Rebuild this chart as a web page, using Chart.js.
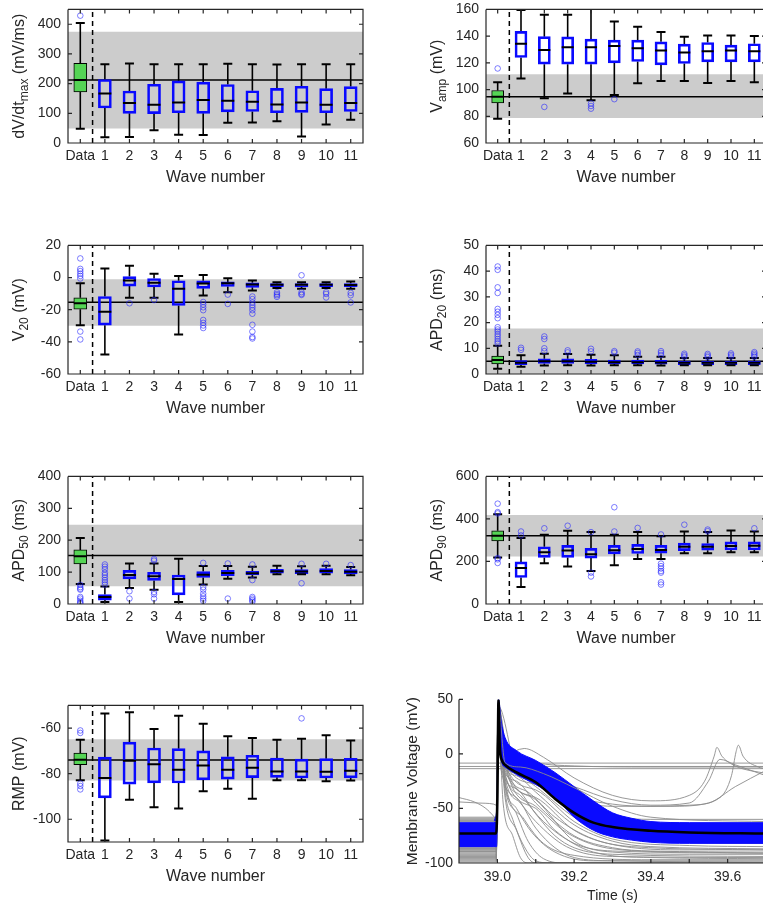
<!DOCTYPE html>
<html>
<head>
<meta charset="utf-8">
<script src="https://cdn.jsdelivr.net/npm/chart.js@4.4.0/dist/chart.umd.min.js"></script>
<style>
html, body { margin: 0; padding: 0; background: #fff; overflow: hidden; width: 763px; height: 907px; position: relative; }
canvas { position: absolute; }
</style>
</head>
<body>
<canvas id="c1"></canvas>
<canvas id="c2"></canvas>
<canvas id="c3"></canvas>
<canvas id="c4"></canvas>
<canvas id="c5"></canvas>
<canvas id="c6"></canvas>
<canvas id="c7"></canvas>
<canvas id="c8"></canvas>
<script>
// categories (0 = Data, then wave numbers)
var positions = [0, 1, 2, 3, 4, 5, 6, 7, 8, 9, 10, 11];
var xLabels = ['Data', '1', '2', '3', '4', '5', '6', '7', '8', '9', '10', '11'];

// dV/dt max
var dvdtQ1  = [172, 118, 100, 99, 102, 100, 105, 106, 102, 103, 102, 106];
var dvdtMed = [212, 167, 135, 129, 136, 145, 142, 139, 130, 136, 129, 135];
var dvdtQ3  = [268, 214, 175, 198, 209, 205, 197, 176, 184, 191, 183, 190];
var dvdtLo  = [48, 19, 20, 43, 28, 27, 68, 69, 73, 22, 62, 78];
var dvdtHi  = [404, 265, 268, 265, 265, 265, 267, 265, 264, 265, 265, 265];
var dvdtOut = [[0, 429]];
var dvdtBand = [49, 375];
var dvdtRef = 212;

// V amp
var vampQ1  = [90, 124, 119, 119, 119, 120, 121, 118.5, 119.5, 120.7, 120.7, 120.7];
var vampMed = [94.7, 134.3, 129.7, 131.6, 131.6, 132.6, 131, 129.2, 127.7, 128.7, 129.2, 128.7];
var vampQ3  = [99.3, 143.5, 139.6, 139.4, 137.7, 137, 137, 135.7, 134, 135.2, 133.3, 134.3];
var vampLo  = [78.2, 108.3, 93.5, 97, 92, 96, 104.7, 106.4, 106.4, 105, 106.4, 105.4];
var vampHi  = [105.4, 159.5, 156, 156, 165, 151, 147, 143, 139.5, 140.5, 140.5, 140];
var vampOut = [[0, 115.8], [2, 87], [4, 89.6], [4, 87.7], [4, 85.7], [5, 92.8]];
var vampBand = [78.7, 111.5];
var vampRef = 94.7;

// V20
var v20Q1  = [-19.7, -29.6, -5.3, -5.9, -17.4, -6.7, -5.5, -6.1, -5.7, -5.9, -5.7, -5.7];
var v20Med = [-16, -21.3, -1.9, -3.3, -6.9, -3.7, -3.5, -4.3, -4.5, -4.5, -4.5, -4.7];
var v20Q3  = [-12.6, -11.8, 0.6, -0.6, -2, -2, -2.7, -3.3, -3.7, -3.7, -3.7, -3.7];
var v20Lo  = [-29.6, -47.8, -12.6, -12.6, -35.5, -11.2, -9.1, -8.1, -6.5, -6.9, -6.5, -7];
var v20Hi  = [-3.5, 5.6, 7.4, 2.4, 1, 1.6, -0.4, -1.9, -2.9, -2.9, -2.9, -2.5];
var v20Out = [[0, 11.9], [0, 5.4], [0, 4], [0, 2.4], [0, 1], [0, -0.6], [0, -33.6], [0, -38.5],
  [2, -16], [3, -14],
  [5, -15.2], [5, -16.8], [5, -18.5], [5, -20.3], [5, -26.4], [5, -28.2], [5, -29.8], [5, -31.4],
  [6, -10.6], [6, -16.4],
  [7, -11.8], [7, -13.4], [7, -15.6], [7, -17.2], [7, -18.7], [7, -20.3], [7, -22.5], [7, -29.4], [7, -33.6], [7, -37], [7, -37.9],
  [8, -9.1], [8, -10.2], [8, -11], [8, -12],
  [9, 1.4], [9, -9.1], [9, -10.2], [9, -10.8],
  [10, -9.1], [10, -10.2], [10, -12.4],
  [11, -9.5], [11, -11], [11, -15.5]];
var v20Band = [-30, -1];
var v20Ref = -15.4;

// APD20
var apd20Q1  = [3.9, 3.6, 4.1, 4.1, 3.9, 3.9, 3.9, 3.8, 3.6, 3.6, 3.6, 3.6];
var apd20Med = [5.4, 4.4, 5, 5, 4.8, 4.6, 4.6, 4.5, 4.4, 4.4, 4.4, 4.4];
var apd20Q3  = [7.0, 5.2, 5.9, 5.9, 5.7, 5.4, 5.4, 5.3, 5, 5, 5, 5];
var apd20Lo  = [2, 2.8, 3.3, 3.4, 3.3, 3.4, 3.4, 3.3, 3.4, 3.4, 3.4, 3.4];
var apd20Hi  = [11, 7.3, 7.9, 7.8, 7.5, 7.3, 6.7, 6.7, 6.2, 6.2, 6.2, 6.2];
var apd20Out = [[0, 41.8], [0, 40.5], [0, 33.7], [0, 31.5], [0, 25.3], [0, 24.2], [0, 23], [0, 21.7],
  [0, 18.2], [0, 17.3], [0, 16.5], [0, 15.5], [0, 14.6], [0, 13.6], [0, 12.7], [0, 11.9],
  [1, 10.2], [1, 9.4], [2, 14.6], [2, 13.6], [2, 10], [2, 8.9], [3, 9.2], [3, 8.4],
  [4, 9.8], [4, 8.8], [5, 8.9], [5, 8.3], [6, 8.8], [6, 8.2], [6, 7.4], [7, 8.9], [7, 8.2], [7, 7.4],
  [8, 7.9], [8, 7.3], [8, 6.7], [9, 7.8], [9, 7.2], [9, 6.6], [10, 8], [10, 7.4], [10, 6.8],
  [11, 8.5], [11, 7.9], [11, 7.3], [11, 6.7]];
var apd20Band = [-5, 17.7];
var apd20Ref = 5.0;

// APD50
var apd50Q1  = [126, 12.2, 79, 74, 28.4, 83, 89, 91, 96.4, 95.4, 96.4, 94];
var apd50Med = [150, 22, 91, 87, 78, 92, 97.5, 96.4, 102.5, 101.5, 103.5, 101];
var apd50Q3  = [169.5, 29.4, 105.6, 99.5, 91, 101.5, 105.6, 102.5, 108.6, 107.6, 110.7, 108];
var apd50Lo  = [63, 6, 50, 45, 6, 61, 79, 83, 93.4, 93.4, 93.4, 90];
var apd50Hi  = [207, 55, 127, 127, 142, 119, 119, 117, 120, 118, 120, 116];
var apd50Out = [[0, 60], [0, 53], [0, 48], [0, 45], [0, 22], [0, 17], [0, 10], [0, 5], [0, 2],
  [1, 124], [1, 117], [1, 109], [1, 98], [1, 91], [1, 83], [1, 75], [1, 68], [1, 61],
  [2, 40], [2, 17], [3, 141], [3, 136], [3, 37.6], [3, 30.5], [3, 17],
  [5, 129], [5, 53], [5, 45], [5, 32.5], [5, 24], [5, 17], [5, 10],
  [6, 127], [6, 17], [7, 124], [7, 75], [7, 22], [7, 17], [7, 12], [7, 7],
  [9, 126], [9, 65], [10, 126], [11, 122]];
var apd50Band = [55.8, 248.7];
var apd50Ref = 152;

// APD90
var apd90Q1  = [296.8, 124.8, 219, 219, 216, 236, 237.4, 239, 251, 252.7, 254, 254];
var apd90Med = [321, 169, 243.5, 251, 234, 252.7, 258.8, 254, 269.4, 269.4, 272.4, 274];
var apd90Q3  = [344, 197.9, 269.4, 275.5, 261.8, 275.5, 280, 275.5, 286, 284.6, 292, 292];
var apd90Lo  = [219, 80, 191.8, 176.6, 155, 182.6, 211.6, 211.6, 239, 239, 243.5, 243.5];
var apd90Hi  = [421.6, 310.5, 325.7, 344, 338, 325.7, 338, 318, 341, 338, 345.5, 341];
var apd90Out = [[0, 471.8], [0, 432], [0, 426], [0, 216], [0, 210], [0, 193],
  [1, 341], [1, 322.6], [2, 356], [3, 368], [4, 338], [4, 147.6], [4, 129.4],
  [5, 455], [5, 341], [6, 357.7],
  [7, 327], [7, 190], [7, 178], [7, 167], [7, 155], [7, 147.6], [7, 102], [7, 91.3],
  [8, 373], [9, 350], [9, 342.5], [11, 356]];
var apd90Band = [223.7, 418.6];
var apd90Ref = 321.2;

// RMP
var rmpQ1  = [-76, -90.6, -84.6, -84, -84.1, -82.7, -82.4, -81.7, -81.6, -81.9, -81.9, -81.8];
var rmpMed = [-73.9, -81.9, -74.3, -75.9, -78.3, -76.4, -78.3, -77.4, -79, -79, -79.1, -78.7];
var rmpQ3  = [-70.9, -72.7, -66.1, -68.7, -69, -70, -72.6, -71.9, -73.1, -73.6, -73.4, -73.2];
var rmpLo  = [-82.9, -109.3, -91.4, -94.7, -95.3, -87.7, -86.6, -91, -82.9, -82.9, -83.3, -83];
var rmpHi  = [-65.1, -53.6, -53, -60.4, -54.6, -58.1, -63.6, -64.3, -65.1, -64.7, -63.1, -65.4];
var rmpOut = [[0, -61], [0, -62.1], [0, -84.3], [0, -85.4], [0, -86.9], [9, -55.7]];
var rmpBand = [-83, -64.9];
var rmpRef = -74;

// membrane voltage traces
var blueT     = [38.9, 38.99, 38.995, 38.998, 39.003, 39.01, 39.02, 39.05, 39.1, 39.15, 39.2, 39.25, 39.3, 39.35, 39.4, 39.5, 39.7];
var blueUpper = [-63, -63, -58, -52, 50, 30, 15, 3, -6, -17, -30, -43, -54, -59, -62, -63, -63];
var blueLower = [-85, -85, -85, -85, 48, -5, -12, -19, -28, -40, -58, -70, -76, -79, -81, -82, -82];
var meanT = [38.9, 38.997, 39.0, 39.003, 39.006, 39.012, 39.02, 39.05, 39.1, 39.15, 39.2, 39.25, 39.3, 39.4, 39.5, 39.7];
var meanV = [-73, -73, -40, 50, 8, -6, -10, -17, -26, -41, -54, -63, -67, -70.5, -72, -73];
var greyOnTop = [
  [[38.9, -62], [38.997, -62], [39.002, 45], [39.02, -8], [39.06, -12], [39.12, -18], [39.2, -31], [39.3, -48], [39.4, -58], [39.7, -62]]
];
var greyTraces = [
  [[38.9, -8.4], [39.7, -8.4]],
  [[38.9, -11.5], [39.7, -11.5]],
  [[38.9, -13.5], [39.7, -13.5]],
  [[38.9, -40], [38.94, -44], [38.97, -50], [38.99, -57], [38.997, -60], [39.002, 46], [39.015, 5], [39.05, -2], [39.1, -8], [39.2, -11], [39.4, -12], [39.7, -12]],
  [[38.9, -44], [38.95, -45], [38.99, -46], [38.997, -47], [39.002, 45], [39.02, 0], [39.07, 5], [39.12, -3], [39.2, -22], [39.3, -38], [39.4, -43], [39.5, -38], [39.54, -25], [39.565, -2], [39.572, 6], [39.585, -2], [39.62, -11], [39.7, -18]],
  [[38.9, -58], [38.997, -58], [39.002, 45], [39.02, -5], [39.1, -15], [39.15, -25], [39.2, -38], [39.3, -46], [39.4, -48], [39.5, -47], [39.58, -40], [39.61, -20], [39.622, 2], [39.628, 8], [39.64, -2], [39.68, -12], [39.7, -14]],
  [[38.9, -59], [38.997, -59], [39.002, 44], [39.03, -8], [39.1, -22], [39.2, -45], [39.3, -57], [39.4, -60], [39.7, -60]],
  [[38.9, -60], [38.997, -60], [39.002, 44], [39.03, -10], [39.1, -18], [39.2, -30], [39.3, -42], [39.4, -47], [39.5, -45], [39.55, -25], [39.58, -5], [39.62, -10], [39.7, -20]],
  [[38.9, -61], [38.997, -61], [39.002, 44], [39.05, -15], [39.1, -25], [39.2, -42], [39.3, -48], [39.45, -48], [39.55, -45], [39.62, -30], [39.7, -15]],
  [[38.9, -86], [38.997, -86], [39.002, 42], [39.01, -5], [39.05, -20], [39.1, -35], [39.2, -65], [39.3, -80], [39.4, -85], [39.7, -87]],
  [[38.9, -88], [38.997, -88], [39.002, 40], [39.01, -8], [39.05, -25], [39.1, -45], [39.2, -75], [39.3, -86], [39.4, -89], [39.7, -90]],
  [[38.9, -90], [38.997, -90], [39.002, 40], [39.01, -12], [39.05, -32], [39.1, -55], [39.15, -75], [39.2, -86], [39.3, -92], [39.7, -94]],
  [[38.9, -93], [38.997, -93], [39.002, 38], [39.01, -15], [39.05, -40], [39.1, -68], [39.15, -86], [39.2, -95], [39.3, -98], [39.7, -99]],
  [[38.9, -96], [38.997, -96], [39.002, 36], [39.02, -30], [39.05, -55], [39.08, -80], [39.12, -96], [39.18, -100], [39.7, -100]],
  [[38.9, -98], [38.997, -98], [39.002, 36], [39.02, -40], [39.05, -70], [39.08, -95], [39.1, -100], [39.7, -100]],
  [[38.9, -84], [38.997, -84], [39.002, 42], [39.01, -3], [39.05, -18], [39.1, -30], [39.2, -58], [39.3, -74], [39.4, -80], [39.7, -82]],
  [[38.9, -87], [38.997, -87], [39.002, 41], [39.02, -15], [39.1, -40], [39.2, -70], [39.3, -83], [39.5, -88], [39.7, -88]],
  [[38.9, -91], [38.997, -91], [39.002, 39], [39.02, -20], [39.1, -50], [39.15, -70], [39.25, -90], [39.4, -95], [39.7, -96]],
  [[38.9, -94], [38.997, -94], [39.002, 38], [39.02, -25], [39.07, -60], [39.12, -82], [39.2, -93], [39.4, -97], [39.7, -97]],
  [[38.9, -89], [38.997, -89], [39.002, 40], [39.03, -18], [39.1, -42], [39.2, -80], [39.3, -90], [39.5, -92], [39.7, -92]],
  [[38.9, -97], [38.997, -97], [39.002, 37], [39.02, -35], [39.04, -60], [39.07, -85], [39.1, -98], [39.14, -100], [39.7, -100]],
  [[38.9, -85], [38.997, -85], [39.002, 43], [39.02, -10], [39.1, -33], [39.2, -62], [39.3, -78], [39.5, -84], [39.7, -85]],
  [[38.9, -86.5], [38.997, -86.5], [39.002, 41], [39.02, -12], [39.08, -35], [39.15, -58], [39.25, -78], [39.35, -85], [39.7, -88]],
  [[38.9, -89.5], [38.997, -89.5], [39.002, 40], [39.02, -18], [39.06, -38], [39.12, -62], [39.2, -82], [39.3, -89], [39.7, -91]],
  [[38.9, -92], [38.997, -92], [39.002, 39], [39.02, -22], [39.06, -45], [39.1, -62], [39.18, -85], [39.3, -94], [39.7, -95]],
  [[38.9, -95], [38.997, -95], [39.002, 37], [39.02, -28], [39.05, -50], [39.09, -72], [39.15, -90], [39.25, -98], [39.7, -98]],
  [[38.9, -83], [38.997, -83], [39.002, 43], [39.02, -8], [39.1, -28], [39.18, -50], [39.28, -70], [39.4, -78], [39.7, -80]],
  [[38.9, -99], [38.997, -99], [39.002, 35], [39.015, -45], [39.04, -75], [39.06, -95], [39.08, -100], [39.7, -100]],
  [[38.9, -88], [38.997, -88], [39.002, 40], [39.03, -22], [39.1, -48], [39.18, -72], [39.3, -87], [39.5, -90], [39.7, -91]]
];

var FONT = "'Liberation Sans', Arial, Helvetica, sans-serif";
var INK = '#262626';
var GREEN = '#55d455';
var BLUE = '#0a0aff';

// dessine le cadre façon MATLAB (ticks vers l'intérieur)
var framePlugin = {
    id: 'frame',
    afterDatasetsDraw: function(chart, args, opts) {
        var a = chart.chartArea, ctx = chart.ctx;
        var xs = chart.scales.x, ys = chart.scales.y;
        var t = 4;
        ctx.save();
        ctx.strokeStyle = INK;
        ctx.lineWidth = 1.2;
        ctx.beginPath();
        ctx.moveTo(a.left, a.top);
        ctx.lineTo(a.left, a.bottom);
        ctx.lineTo(a.right, a.bottom);
        if (opts.box) {
            ctx.lineTo(a.right, a.top);
            ctx.lineTo(a.left, a.top);
        }
        xs.ticks.forEach(function(tk) {
            var px = xs.getPixelForValue(tk.value);
            ctx.moveTo(px, a.bottom);
            ctx.lineTo(px, a.bottom - t);
            if (opts.box) {
                ctx.moveTo(px, a.top);
                ctx.lineTo(px, a.top + t);
            }
        });
        ys.ticks.forEach(function(tk) {
            var py = ys.getPixelForValue(tk.value);
            ctx.moveTo(a.left, py);
            ctx.lineTo(a.left + t, py);
            if (opts.box) {
                ctx.moveTo(a.right, py);
                ctx.lineTo(a.right - t, py);
            }
        });
        ctx.stroke();
        ctx.restore();
    }
};

// titres des axes, avec indice pour l'axe y
var titlePlugin = {
    id: 'axisTitles',
    afterDraw: function(chart, args, opts) {
        var a = chart.chartArea, ctx = chart.ctx;
        var ySize = opts.ySize || opts.size;
        ctx.save();
        ctx.fillStyle = INK;
        ctx.textBaseline = 'middle';
        ctx.textAlign = 'center';
        ctx.font = opts.size + 'px ' + FONT;
        ctx.fillText(opts.x, (a.left + a.right) / 2, a.bottom + opts.xOff);

        var total = 0;
        opts.y.forEach(function(p) {
            ctx.font = (p[1] ? opts.subSize : ySize) + 'px ' + FONT;
            total += ctx.measureText(p[0]).width;
        });
        ctx.translate(a.left - opts.yOff, (a.top + a.bottom) / 2);
        ctx.rotate(-Math.PI / 2);
        ctx.textAlign = 'left';
        var x = -total / 2;
        opts.y.forEach(function(p) {
            ctx.font = (p[1] ? opts.subSize : ySize) + 'px ' + FONT;
            ctx.fillText(p[0], x, p[1] ? 5 : 0);
            x += ctx.measureText(p[0]).width;
        });
        ctx.restore();
    }
};

function placeCanvas(id, rect, pad) {
    var c = document.getElementById(id);
    var w = rect.r - rect.l + pad.l + pad.r;
    var h = rect.b - rect.t + pad.t + pad.b;
    c.width = w;
    c.height = h;
    c.style.left = (rect.l - pad.l) + 'px';
    c.style.top = (rect.t - pad.t) + 'px';
    c.style.width = w + 'px';
    c.style.height = h + 'px';
    return c;
}

function boxChart(id, rect, d) {
    var pad = {l: 66, t: 12, r: 10, b: 50};
    var canvas = placeCanvas(id, rect, pad);
    var boxW = Math.round((rect.r - rect.l) / 12 * 0.53);

    var whisk = [], caps = [], meds = [], boxes = [], outs = [];
    for (var i = 0; i < positions.length; i++) {
        var p = positions[i];
        whisk.push({x: p, y: d.q3[i]}, {x: p, y: d.hi[i]}, {x: p, y: null},
                   {x: p, y: d.q1[i]}, {x: p, y: d.lo[i]}, {x: p, y: null});
        caps.push({x: p, y: d.lo[i]}, {x: p, y: d.hi[i]});
        meds.push({x: p, y: d.med[i]});
        boxes.push({x: p, y: [d.q1[i], d.q3[i]]});
    }
    d.out.forEach(function(o) { outs.push({x: o[0], y: o[1]}); });

    return new Chart(canvas.getContext('2d'), {
        type: 'bar',
        data: {
            datasets: [
                {   // outliers
                    type: 'line', data: outs, showLine: false, order: 1,
                    pointStyle: 'circle', pointRadius: 2.8, pointBorderWidth: 1,
                    pointBorderColor: 'rgba(40,40,255,0.6)', pointBackgroundColor: 'rgba(0,0,0,0)'
                },
                {   // caps
                    type: 'line', data: caps, showLine: false, order: 2,
                    pointStyle: 'line', pointRadius: 4.5, pointBorderWidth: 2, pointBorderColor: '#000'
                },
                {   // medians
                    type: 'line', data: meds, showLine: false, order: 3,
                    pointStyle: 'line', pointRadius: boxW / 2, pointBorderWidth: 2, pointBorderColor: '#000'
                },
                {   // boxes
                    type: 'bar', data: boxes, order: 4, barThickness: boxW, borderSkipped: false,
                    backgroundColor: function(c) { return c.dataIndex === 0 ? GREEN : 'rgba(0,0,0,0)'; },
                    borderColor: function(c) { return c.dataIndex === 0 ? '#000' : BLUE; },
                    borderWidth: function(c) { return c.dataIndex === 0 ? 1 : 2; }
                },
                {   // whiskers
                    type: 'line', data: whisk, order: 5, spanGaps: false,
                    borderColor: '#000', borderWidth: 1.6, pointRadius: 0
                },
                {   // separation Data / waves
                    type: 'line', data: [{x: 0.5, y: d.yMin}, {x: 0.5, y: d.yMax}], order: 6,
                    borderColor: '#000', borderWidth: 1.5, borderDash: [5, 4], pointRadius: 0
                },
                {   // reference line
                    type: 'line', data: [{x: -0.5, y: d.ref}, {x: 11.5, y: d.ref}], order: 7,
                    borderColor: '#000', borderWidth: 1.5, pointRadius: 0
                },
                {   // grey band
                    type: 'line', data: [{x: -0.5, y: d.band[1]}, {x: 11.5, y: d.band[1]}], order: 8,
                    borderWidth: 0, pointRadius: 0, backgroundColor: '#cccccc',
                    fill: {value: d.band[0]}
                }
            ]
        },
        options: {
            responsive: false,
            animation: false,
            layout: {padding: {left: 0, top: pad.t, right: pad.r, bottom: 0}},
            plugins: {
                legend: {display: false},
                tooltip: {enabled: false},
                frame: {box: true},
                axisTitles: {x: 'Wave number', xOff: 35, y: d.title, yOff: 48, size: 16, subSize: 12}
            },
            scales: {
                x: {
                    type: 'linear', min: -0.5, max: 11.5, offset: false,
                    grid: {display: false, drawTicks: false},
                    border: {display: false},
                    afterBuildTicks: function(s) { s.ticks = positions.map(function(v) { return {value: v}; }); },
                    afterFit: function(s) { s.height = pad.b; },
                    ticks: {
                        autoSkip: false, maxRotation: 0, minRotation: 0, padding: 5,
                        color: INK, font: {family: FONT, size: 14},
                        callback: function(v) { return xLabels[v]; }
                    }
                },
                y: {
                    min: d.yMin, max: d.yMax,
                    grid: {display: false, drawTicks: false},
                    border: {display: false},
                    afterBuildTicks: function(s) { s.ticks = d.yTicks.map(function(v) { return {value: v}; }); },
                    afterFit: function(s) { s.width = pad.l; },
                    ticks: {padding: 7, color: INK, font: {family: FONT, size: 14}}
                }
            }
        },
        plugins: [framePlugin, titlePlugin]
    });
}

boxChart('c1', {l: 68, t: 6, r: 363, b: 143}, {
    q1: dvdtQ1, med: dvdtMed, q3: dvdtQ3, lo: dvdtLo, hi: dvdtHi, out: dvdtOut,
    band: dvdtBand, ref: dvdtRef, yMin: 0, yMax: 450, yTicks: [0, 100, 200, 300, 400],
    title: [['dV/dt', 0], ['max', 1], [' (mV/ms)', 0]]
});
boxChart('c2', {l: 486, t: 6, r: 766, b: 143}, {
    q1: vampQ1, med: vampMed, q3: vampQ3, lo: vampLo, hi: vampHi, out: vampOut,
    band: vampBand, ref: vampRef, yMin: 60, yMax: 160, yTicks: [60, 80, 100, 120, 140, 160],
    title: [['V', 0], ['amp', 1], [' (mV)', 0]]
});
boxChart('c3', {l: 68, t: 242, r: 363, b: 374}, {
    q1: v20Q1, med: v20Med, q3: v20Q3, lo: v20Lo, hi: v20Hi, out: v20Out,
    band: v20Band, ref: v20Ref, yMin: -60, yMax: 20, yTicks: [-60, -40, -20, 0, 20],
    title: [['V', 0], ['20', 1], [' (mV)', 0]]
});
boxChart('c4', {l: 486, t: 242, r: 766, b: 374}, {
    q1: apd20Q1, med: apd20Med, q3: apd20Q3, lo: apd20Lo, hi: apd20Hi, out: apd20Out,
    band: apd20Band, ref: apd20Ref, yMin: 0, yMax: 50, yTicks: [0, 10, 20, 30, 40, 50],
    title: [['APD', 0], ['20', 1], [' (ms)', 0]]
});
boxChart('c5', {l: 68, t: 473, r: 363, b: 604}, {
    q1: apd50Q1, med: apd50Med, q3: apd50Q3, lo: apd50Lo, hi: apd50Hi, out: apd50Out,
    band: apd50Band, ref: apd50Ref, yMin: 0, yMax: 400, yTicks: [0, 100, 200, 300, 400],
    title: [['APD', 0], ['50', 1], [' (ms)', 0]]
});
boxChart('c6', {l: 486, t: 473, r: 766, b: 604}, {
    q1: apd90Q1, med: apd90Med, q3: apd90Q3, lo: apd90Lo, hi: apd90Hi, out: apd90Out,
    band: apd90Band, ref: apd90Ref, yMin: 0, yMax: 600, yTicks: [0, 200, 400, 600],
    title: [['APD', 0], ['90', 1], [' (ms)', 0]]
});
boxChart('c7', {l: 68, t: 702, r: 363, b: 842}, {
    q1: rmpQ1, med: rmpMed, q3: rmpQ3, lo: rmpLo, hi: rmpHi, out: rmpOut,
    band: rmpBand, ref: rmpRef, yMin: -110, yMax: -50, yTicks: [-100, -80, -60],
    title: [['RMP (mV)', 0]]
});

// tracé des potentiels d'action
function toPoints(xs, ys) {
    return xs.map(function(x, i) { return {x: x, y: ys[i]}; });
}
function pairsToPoints(tr) {
    return tr.map(function(p) { return {x: p[0], y: p[1]}; });
}

(function() {
    var rect = {l: 459, t: 697, r: 766, b: 863};
    var pad = {l: 66, t: 12, r: 10, b: 45};
    var canvas = placeCanvas('c8', rect, pad);
    var lineStyle = {pointRadius: 0, cubicInterpolationMode: 'monotone', fill: false};

    var datasets = [
        Object.assign({data: toPoints(meanT, meanV), borderColor: '#000', borderWidth: 2.6, order: -2}, lineStyle),
        Object.assign({data: toPoints(blueT, blueUpper), borderColor: BLUE, borderWidth: 1, order: 0}, lineStyle, {fill: '+1', backgroundColor: BLUE}),
        Object.assign({data: toPoints(blueT, blueLower), borderColor: BLUE, borderWidth: 1, order: 0}, lineStyle)
    ];
    greyOnTop.forEach(function(tr) {
        datasets.push(Object.assign({data: pairsToPoints(tr), borderColor: '#8c8c8c', borderWidth: 0.9, order: -1}, lineStyle));
    });
    greyTraces.forEach(function(tr) {
        datasets.push(Object.assign({data: pairsToPoints(tr), borderColor: '#8c8c8c', borderWidth: 0.9, order: 0}, lineStyle));
    });

    new Chart(canvas.getContext('2d'), {
        type: 'line',
        data: {datasets: datasets},
        options: {
            responsive: false,
            animation: false,
            layout: {padding: {left: 0, top: pad.t, right: pad.r, bottom: 0}},
            plugins: {
                legend: {display: false},
                tooltip: {enabled: false},
                frame: {box: false},
                axisTitles: {x: 'Time (s)', xOff: 33, y: [['Membrane Voltage (mV)', 0]], yOff: 46, size: 14, ySize: 15.5, subSize: 11}
            },
            scales: {
                x: {
                    type: 'linear', min: 38.9, max: 39.7,
                    grid: {display: false, drawTicks: false},
                    border: {display: false},
                    afterBuildTicks: function(s) {
                        s.ticks = [39.0, 39.1, 39.2, 39.3, 39.4, 39.5, 39.6].map(function(v) { return {value: v}; });
                    },
                    afterFit: function(s) { s.height = pad.b; },
                    ticks: {
                        autoSkip: false, maxRotation: 0, padding: 6, color: INK, font: {family: FONT, size: 14},
                        callback: function(v) {
                            var k = Math.round(v * 10);
                            return k % 2 === 0 ? v.toFixed(1) : '';
                        }
                    }
                },
                y: {
                    min: -100, max: 50,
                    grid: {display: false, drawTicks: false},
                    border: {display: false},
                    afterBuildTicks: function(s) {
                        s.ticks = [-100, -50, 0, 50].map(function(v) { return {value: v}; });
                    },
                    afterFit: function(s) { s.width = pad.l; },
                    ticks: {padding: 6, color: INK, font: {family: FONT, size: 14}}
                }
            }
        },
        plugins: [framePlugin, titlePlugin]
    });
})();
</script>
</body>
</html>
